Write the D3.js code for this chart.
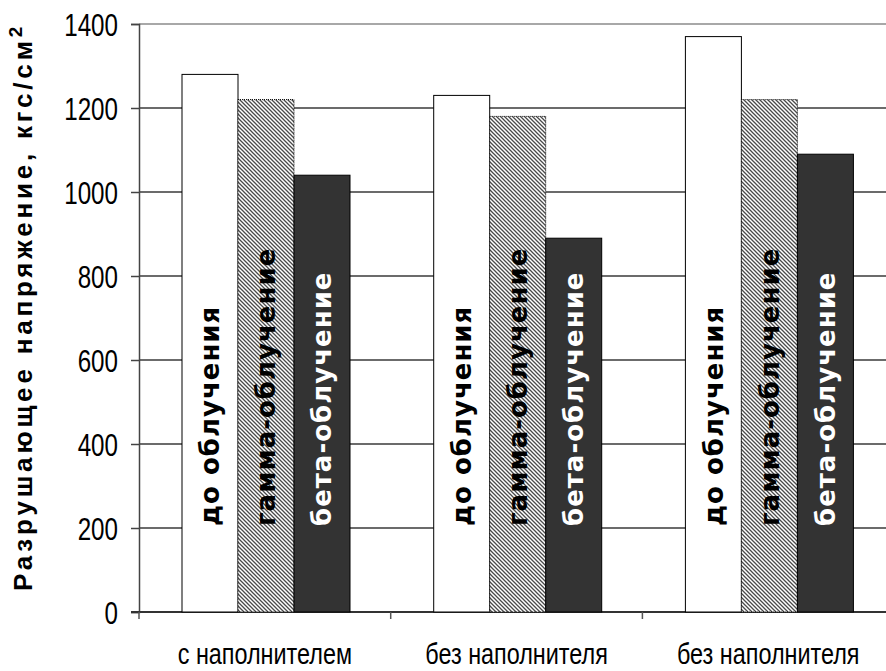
<!DOCTYPE html>
<html>
<head>
<meta charset="utf-8">
<script src="https://cdn.jsdelivr.net/npm/d3@7/dist/d3.min.js"></script>
<style>
  html, body { margin: 0; padding: 0; background: #fff; }
  svg { display: block; }
</style>
</head>
<body>
<svg id="chart" width="886" height="671"></svg>
<script>
// Breaking stress of samples before and after irradiation
const categories = ["с наполнителем", "без наполнителя", "без наполнителя"];
const seriesNames = ["до облучения", "гамма-облучение", "бета-облучение"];
const beforeValues = [1280, 1230, 1370];
const gammaValues  = [1220, 1180, 1220];
const betaValues   = [1040, 890, 1090];
const yTicks = [0, 200, 400, 600, 800, 1000, 1200, 1400];
const yTitle = "Разрушающее напряжение, кгс/см";

const seriesValues = [beforeValues, gammaValues, betaValues];

const svg = d3.select("#chart");
const plotLeft = 139, plotTop = 24, plotBottom = 612, groupW = 251.7;
const narrow = 0.78; // horizontal squeeze for the condensed axis lettering

const y = d3.scaleLinear().domain([0, 1400]).range([plotBottom, plotTop]);
const x = d3.scaleBand()
  .domain(d3.range(categories.length))
  .range([plotLeft, plotLeft + groupW * categories.length])
  .padding(0);
const xs = d3.scaleBand().domain(d3.range(seriesNames.length)).range([43, 211]).padding(0);

// hatch pattern for the gamma series
const defs = svg.append("defs");
const pat = defs.append("pattern")
  .attr("id", "hatch").attr("patternUnits", "userSpaceOnUse")
  .attr("width", 4).attr("height", 4);
pat.append("rect").attr("width", 4).attr("height", 4).attr("fill", "#fff");
pat.append("path")
  .attr("d", "M-1,-1 L5,5 M3,-1 L5,1 M-1,3 L1,5")
  .attr("stroke", "#4a4a4a").attr("stroke-width", 1.3);

// gridlines
svg.append("g").selectAll("line")
  .data(yTicks.filter(t => t > 0))
  .join("line")
  .attr("x1", plotLeft).attr("x2", 886)
  .attr("y1", d => y(d)).attr("y2", d => y(d))
  .attr("stroke", d => d === 1400 ? "#a8a8a8" : "#3a3a3a")
  .attr("stroke-width", d => d === 1400 ? 2 : 1.5);

// y axis
const yAxis = svg.append("g")
  .attr("transform", `translate(${plotLeft},0)`)
  .call(d3.axisLeft(y).tickValues(yTicks).tickSize(8).tickPadding(0).tickFormat(d3.format("d")));
yAxis.select(".domain").attr("stroke", "#444").attr("stroke-width", 1.5);
yAxis.selectAll(".tick line").attr("stroke", "#444").attr("stroke-width", 1.5);
yAxis.selectAll(".tick text")
  .attr("x", null)
  .attr("transform", `translate(-21,0) scale(${narrow},1)`)
  .attr("font-family", "'Liberation Sans', Arial, sans-serif")
  .attr("font-size", 31).attr("fill", "#000").attr("dy", "0.36em");

// x axis line and group boundary ticks
svg.append("line")
  .attr("x1", plotLeft - 8).attr("x2", 886)
  .attr("y1", plotBottom).attr("y2", plotBottom)
  .attr("stroke", "#333").attr("stroke-width", 2);
svg.append("g").selectAll("line")
  .data(d3.range(categories.length))
  .join("line")
  .attr("x1", d => x(d)).attr("x2", d => x(d))
  .attr("y1", plotBottom).attr("y2", plotBottom + 7)
  .attr("stroke", "#555").attr("stroke-width", 1.5);

// category labels
svg.append("g").selectAll("text")
  .data(categories)
  .join("text")
  .attr("transform", (d, i) => `translate(${x(i) + x.bandwidth() / 2},664) scale(${narrow},1)`)
  .attr("text-anchor", "middle")
  .attr("font-family", "'Liberation Sans', Arial, sans-serif")
  .attr("font-size", 30)
  .attr("fill", "#000")
  .text(d => d);

// bars
const fills = ["#ffffff", "url(#hatch)", "#333333"];
const textFills = ["#000", "#000", "#fff"];
const barData = [];
categories.forEach((c, gi) => {
  seriesValues.forEach((vals, si) => {
    barData.push({ gi, si, value: vals[gi] });
  });
});

const bars = svg.append("g");
bars.selectAll("rect")
  .data(barData)
  .join("rect")
  .attr("x", d => x(d.gi) + xs(d.si))
  .attr("y", d => y(d.value))
  .attr("width", xs.bandwidth())
  .attr("height", d => y(0) - y(d.value))
  .attr("fill", d => fills[d.si])
  .attr("stroke", "#000")
  .attr("stroke-width", 1)
  .attr("stroke-dasharray", d => d.si === 1 ? "1,1" : null);

// series names written vertically inside bars
bars.selectAll("text")
  .data(barData)
  .join("text")
  .attr("transform", d => `translate(${x(d.gi) + xs(d.si) + xs.bandwidth() / 2},526) rotate(-90)`)
  .attr("dy", "0.36em")
  .attr("text-anchor", "start")
  .attr("font-family", "'DejaVu Sans', Verdana, sans-serif")
  .attr("font-weight", "bold")
  .attr("font-size", 26)
  .attr("letter-spacing", 1)
  .attr("fill", d => textFills[d.si])
  .text(d => seriesNames[d.si]);

// y axis title
const t = svg.append("text")
  .attr("transform", "translate(32,307) rotate(-90)")
  .attr("text-anchor", "middle")
  .attr("font-family", "'Liberation Sans', Arial, sans-serif")
  .attr("font-weight", "bold")
  .attr("font-size", 26)
  .attr("letter-spacing", 3.8)
  .attr("fill", "#000");
t.append("tspan").text(yTitle);
t.append("tspan").attr("dy", -10).attr("font-size", 19).text("2");
</script>
</body>
</html>
